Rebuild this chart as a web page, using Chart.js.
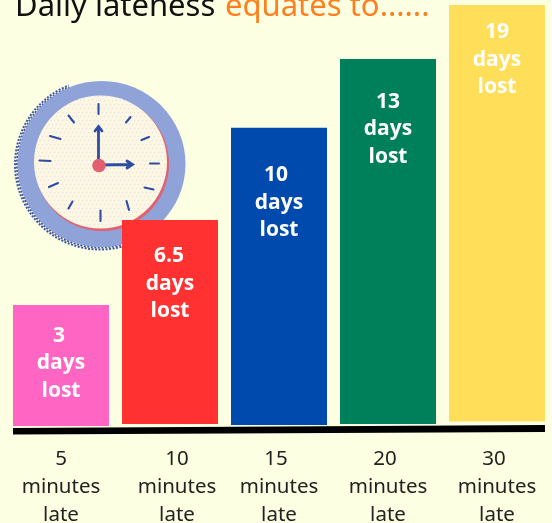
<!DOCTYPE html>
<html>
<head>
<meta charset="utf-8">
<title>Daily lateness</title>
<script src="https://cdn.jsdelivr.net/npm/chart.js@4"></script>
<style>
html,body{margin:0;padding:0;background:#fdffe2;overflow:hidden}
canvas{display:block}
</style>
</head>
<body>
<canvas id="chart_1" width="552" height="523"></canvas>
<script>
// what the picture says
const minutesLate = ['5', '10', '15', '20', '30'];
const daysLost = ['3', '6.5', '10', '13', '19'];
// the bars are not to scale in the original, so these are the drawn heights read off it
const barTops = [5.46, 9.3, 13.46, 16.56, 19];
const barBases = [0, 0.09, 0.05, 0.09, 0.2];
const barColors = ['#ff66c4', '#ff3131', '#004aad', '#00805a', '#ffde59'];

const labelDrop = [29, 35, 46, 41, 26];
const valueNudge = [-2, -1, -3, 0, 0];
const tickNudge = [0, 7, 0, 0, 0];
const tickFirstNudge = [0, 0, -3, -3, -3];

const clockDecor = {
    id: 'clockDecor',
    beforeDatasetsDraw(chart) {
        const c = chart.ctx;
        c.save();
        // stippled edge on the lower left
        c.strokeStyle = '#3f57a6';
        c.lineWidth = 2;
        c.setLineDash([2, 1.5]);
        for (const r of [85, 83, 81]) {
            c.beginPath();
            c.arc(100, 164.5, r, Math.PI * 0.38, Math.PI * 1.38);
            c.stroke();
        }
        c.setLineDash([]);
        c.fillStyle = '#8fa3d8';
        c.beginPath();
        c.ellipse(101.5, 164, 84, 83, 0, 0, Math.PI * 2);
        c.fill();
        // red edge behind the face
        c.fillStyle = '#e2606f';
        c.beginPath();
        c.arc(102, 164, 67, 0, Math.PI * 2);
        c.fill();
        c.fillStyle = '#fdf6e3';
        c.beginPath();
        c.arc(100.5, 162, 66.5, 0, Math.PI * 2);
        c.fill();
        // speckle on the face
        c.save();
        c.beginPath();
        c.arc(100.5, 162, 66, 0, Math.PI * 2);
        c.clip();
        c.fillStyle = 'rgba(120,140,205,0.22)';
        for (let y = 96; y < 230; y += 4) {
            for (let x = 34 + (y % 8 ? 2 : 0); x < 168; x += 4) {
                c.fillRect(x, y, 1, 1);
            }
        }
        c.restore();
        // hour marks
        c.strokeStyle = '#2f4ea3';
        c.lineWidth = 2.1;
        c.lineCap = 'round';
        const marks = [
            [98.5, 104, 98.5, 114], [130.5, 117, 126, 122.5], [149, 137, 141.5, 140],
            [159, 163.5, 150, 163.5], [153.5, 189.5, 144.5, 187.5], [126.5, 201, 129, 210],
            [100.5, 210.5, 100.5, 221], [72.5, 201.5, 68.5, 208.5], [58, 183, 49, 187],
            [39.5, 160.5, 50.5, 161], [50, 136, 60.5, 139], [68.5, 115.5, 74, 122.5]
        ];
        for (const m of marks) {
            c.beginPath();
            c.moveTo(m[0], m[1]);
            c.lineTo(m[2], m[3]);
            c.stroke();
        }
        // hands
        c.lineWidth = 2.8;
        c.beginPath();
        c.moveTo(98.5, 165);
        c.lineTo(98.5, 127);
        c.moveTo(95, 131);
        c.lineTo(98.5, 126.5);
        c.lineTo(102, 131);
        c.moveTo(99, 165);
        c.lineTo(132, 164.5);
        c.moveTo(127, 161);
        c.lineTo(132.5, 164.5);
        c.lineTo(127, 168);
        c.stroke();
        c.fillStyle = '#e2606f';
        c.beginPath();
        c.arc(99, 165.5, 6.8, 0, Math.PI * 2);
        c.fill();
        c.restore();
    }
};

const textDecor = {
    id: 'textDecor',
    afterDatasetsDraw(chart) {
        const c = chart.ctx;
        const x = chart.scales.x;
        const y = chart.scales.y;
        c.save();

        // title, cut by the top edge like the original
        c.textBaseline = 'alphabetic';
        c.textAlign = 'left';
        c.font = '31px "Noto Sans"';
        c.fillStyle = '#111111';
        c.fillText('Daily lateness', 15, 16);
        c.fillStyle = '#ff7f1e';
        c.fillText('equates to......', 225, 16);

        // baseline, very slightly tilted
        c.fillStyle = '#000000';
        c.beginPath();
        c.moveTo(x.left + 6.5, y.getPixelForValue(0) + 2);
        c.lineTo(chart.width - 7, y.getPixelForValue(0) - 1);
        c.lineTo(chart.width - 7, y.getPixelForValue(0) + 6);
        c.lineTo(x.left + 6.5, y.getPixelForValue(0) + 8.5);
        c.closePath();
        c.fill();

        c.textAlign = 'center';
        c.textBaseline = 'middle';

        // text inside the bars
        c.font = 'bold 21px "Open Sans"';
        c.fillStyle = '#ffffff';
        daysLost.forEach((d, i) => {
            const px = x.getPixelForValue(i);
            const top = y.getPixelForValue(barTops[i]) + labelDrop[i] + 1.5;
            [d, 'days', 'lost'].forEach((line, k) => {
                c.fillText(line, px + (k === 0 ? valueNudge[i] : 0), top + k * 27.5);
            });
        });

        // category labels under the line
        c.font = '20.5px "Noto Sans"';
        c.fillStyle = '#222222';
        minutesLate.forEach((m, i) => {
            const px = x.getPixelForValue(i) + tickNudge[i];
            c.fillText(m, px + tickFirstNudge[i], 459);
            c.fillText('minutes', px, 487);
            c.fillText('late', px, 515);
        });
        c.restore();
    }
};

var chart1 = new Chart(document.getElementById('chart_1'), {
    type: 'bar',
    data: {
        labels: minutesLate,
        datasets: [
            {
                data: barTops.map((t, i) => [barBases[i], t]),
                backgroundColor: barColors,
                borderWidth: 0,
                barPercentage: 96 / 109,
                categoryPercentage: 1
            }
        ]
    },
    options: {
        responsive: false,
        animation: false,
        layout: { padding: { left: 6.5, right: 0.5, top: 5, bottom: 97 } },
        plugins: {
            legend: { display: false },
            tooltip: { enabled: false }
        },
        scales: {
            x: { display: false },
            y: { display: false, min: 0, max: 19 }
        }
    },
    plugins: [clockDecor, textDecor]
});
</script>
</body>
</html>
